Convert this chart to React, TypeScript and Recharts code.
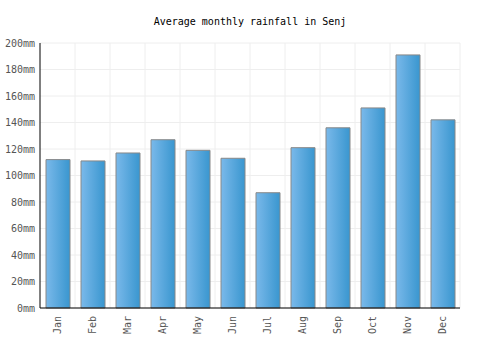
import React from "react";
import { BarChart, Bar, XAxis, YAxis, CartesianGrid } from "recharts";

const months = ["Jan", "Feb", "Mar", "Apr", "May", "Jun", "Jul", "Aug", "Sep", "Oct", "Nov", "Dec"];
const rainfall = [112, 111, 117, 127, 119, 113, 87, 121, 136, 151, 191, 142];
const yTicks = [0, 20, 40, 60, 80, 100, 120, 140, 160, 180, 200];

const data = months.map((m, i) => ({ month: m, rain: rainfall[i] }));

const FONT = "'DejaVu Sans Mono', monospace";

const XTick = (props: any) => {
  const { x, y, payload } = props;
  return (
    <text
      x={x}
      y={y}
      transform={`rotate(-90, ${x}, ${y})`}
      textAnchor="end"
      dominantBaseline="central"
      fontFamily={FONT}
      fontSize={10}
      fill="#555"
    >
      {payload.value}
    </text>
  );
};

const YTick = (props: any) => {
  const { y, payload } = props;
  return (
    <text
      x={35}
      y={y}
      textAnchor="end"
      dominantBaseline="central"
      fontFamily={FONT}
      fontSize={10}
      fill="#555"
    >
      {`${payload.value}mm`}
    </text>
  );
};

export default function App() {
  return (
    <div style={{ position: "absolute", left: 0, top: 0, width: 500, height: 350, background: "#fff" }}>
      <div
        style={{
          position: "absolute",
          top: 16,
          left: 0,
          width: 500,
          textAlign: "center",
          fontFamily: FONT,
          fontSize: 10,
          lineHeight: "12px",
          color: "#000",
        }}
      >
        Average monthly rainfall in Senj
      </div>
      <BarChart
        width={500}
        height={350}
        data={data}
        margin={{ top: 43, right: 40, bottom: 0, left: 0 }}
      >
        <defs>
          <linearGradient id="barGrad2" x1="0" y1="0" x2="1" y2="0">
            <stop offset="0%" stopColor="#7ab9ea" />
            <stop offset="100%" stopColor="#3996cf" />
          </linearGradient>
        </defs>
        <CartesianGrid
          stroke="#eeeeee"
          verticalCoordinatesGenerator={({ offset }: any) =>
            months.map((_, i) => offset.left + ((i + 1) * offset.width) / months.length)
          }
        />
        <XAxis
          dataKey="month"
          height={42}
          tickLine={false}
          axisLine={{ stroke: "#000" }}
          tick={<XTick />}
          interval={0}
        />
        <YAxis
          width={40}
          domain={[0, 200]}
          ticks={yTicks}
          tickLine={false}
          axisLine={{ stroke: "#000" }}
          tick={<YTick />}
          interval={0}
        />
        <Bar
          dataKey="rain"
          fill="url(#barGrad2)"
          stroke="#888"
          strokeWidth={1}
          barSize={24}
          isAnimationActive={false}
        />
      </BarChart>
    </div>
  );
}
